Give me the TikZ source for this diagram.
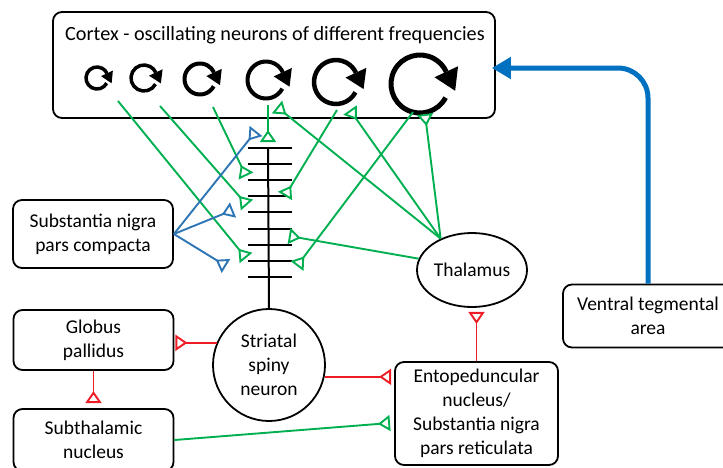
\documentclass[tikz,border=0pt]{standalone}
\usepackage{fontspec}
\setmainfont{Carlito}
\usepackage{xcolor}
\usetikzlibrary{arrows.meta,shapes.geometric,calc}

\definecolor{excgreen}{HTML}{00B050}
\definecolor{inhred}{HTML}{EE1C25}
\definecolor{dopblue}{HTML}{2E75B6}
\definecolor{vtablue}{HTML}{0070C0}

\tikzset{
  lbl/.style={align=center, inner sep=0pt, font=\fontsize{19.5}{24}\selectfont},
  region/.style={lbl, draw, line width=1.8pt, rounded corners=9pt},
  synapse/.style={line width=1.9pt, -{Triangle[reversed, fill=white, length=12pt, width=16pt]}},
  excit/.style={synapse, draw=excgreen},
  inhib/.style={synapse, draw=inhred},
  dopa/.style={synapse, draw=dopblue},
}

\begin{document}
\begin{tikzpicture}[x=1pt, y=-1pt]
    \useasboundingbox (0,0) rectangle (723,467);

    \node [region, minimum width=442pt, minimum height=106pt] (cortex) at (274,65) {};
    \node [lbl, anchor=base, font=\fontsize{20.2}{24}\selectfont] (cortexlabel) at (275,40) {Cortex - oscillating neurons of different frequencies};

    \node [region, minimum width=160pt, minimum height=68pt] (snc) at (93,234) {Substantia nigra\\pars compacta};
    \node [region, minimum width=160pt, minimum height=60pt] (gp) at (93.5,340) {Globus\\pallidus};
    \node [region, minimum width=160pt, minimum height=62pt] (stn) at (93.5,440) {Subthalamic\\nucleus};
    \node [region, circle, rounded corners=0pt, minimum size=112pt] (str) at (269,365) {Striatal\\spiny\\neuron};
    \node [region, ellipse, rounded corners=0pt, minimum width=110pt, minimum height=74pt] (thal) at (472,270) {Thalamus};
    \node [region, minimum width=163pt, minimum height=103pt] (ep) at (476.5,413.5) {Entopeduncular\\nucleus/\\Substantia nigra\\pars reticulata};
    \node [region, minimum width=170pt, minimum height=63pt] (vta) at (648,316) {Ventral tegmental\\area};

    % oscillating neurons
    \foreach \i/\x/\y/\r/\w/\l/\b in {1/97/78/11/3.5/11/13, 2/144/78/13/3.5/12/15,
        3/200/79/15.5/4/14/17, 4/266/80/18.5/4/16/20, 5/336/82/22/4.5/18/23, 6/420/84/29/5/21/26}{
      \draw [line width=\w pt] (\x,\y) ++(28:\r) arc [start angle=28, end angle=335, radius=\r];
      \fill ($(\x,\y)+(335:{\r+\b/2})$) -- ($(\x,\y)+(335:{\r-\b/2})$)
        -- ($(\x,\y)+(335:\r)+(65:\l)$) -- cycle;
    }

    % striatal spiny neuron
    \coordinate (spinetop) at (268,148);
    \draw [line width=2pt] (spinetop) -- (str.north);
    \foreach \k in {0,...,8}
      \draw [line width=2pt] (248,{148+16.1*\k}) -- (292,{148+16.1*\k});

    \coordinate (cx1) at (118,101);
    \coordinate (cx2) at (160,106);
    \coordinate (cx3) at (213,107);
    \coordinate (cx4) at (268,105);
    \coordinate (cx5) at (337,110);
    \coordinate (cx6) at (413,112);
    \coordinate (sp1) at (246,258);
    \coordinate (sp2) at (247,205);
    \coordinate (sp3) at (246,176);
    \coordinate (sp4) at (268,142);
    \coordinate (sp5) at (285,196);
    \coordinate (sp6) at (297,266);
    \coordinate (sp7) at (289,236);
    \coordinate (th4) at (277,107);
    \coordinate (th5) at (350,110);
    \coordinate (th6) at (425,114);
    \coordinate (da1) at (256,131);
    \coordinate (da2) at (233,210);
    \coordinate (da3) at (226,266);
    \coordinate (epin) at (390,423);

    \draw [excit] (cx1) -- (sp1);
    \draw [excit] (cx2) -- (sp2);
    \draw [excit] (cx3) -- (sp3);
    \draw [excit] (cx4) -- (sp4);
    \draw [excit] (cx5) -- (sp5);
    \draw [excit] (cx6) -- (sp6);
    \draw [excit] (thal.135) -- (th4);
    \draw [excit] (thal.135) -- (th5);
    \draw [excit] (thal.135) -- (th6);
    \draw [excit] (thal.168) -- (sp7);
    \draw [excit] (stn.east) -- (epin);

    \draw [dopa] (snc.east) -- (da1);
    \draw [dopa] (snc.east) -- (da2);
    \draw [dopa] (snc.east) -- (da3);

    \draw [inhib, shorten >=1pt] (str.157) -- (gp.east |- str.157);
    \draw [inhib, shorten >=3pt] (str.-12) -- (ep.west |- str.-12);
    \draw [inhib, shorten >=5pt] (gp.south) -- (stn.north);
    \draw [inhib, shorten >=4pt] (ep.north) -- (ep.north |- thal.south);

    \draw [vtablue, line width=5pt, rounded corners=30pt, shorten >=-4pt, -{Triangle[length=19pt, width=21pt]}]
      (vta.north) |- ([yshift=-3pt]cortex.east);
\end{tikzpicture}
\end{document}
